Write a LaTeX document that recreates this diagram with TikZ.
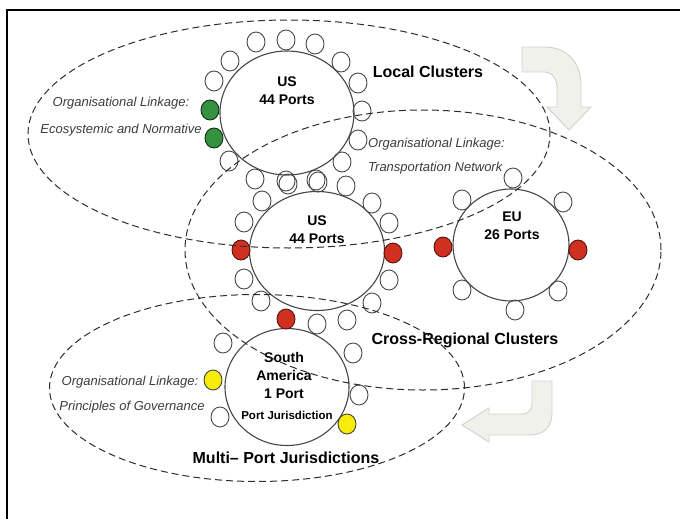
\documentclass[tikz,border=0pt]{standalone}
\usepackage{fontspec}
\setmainfont{Liberation Sans}
\usetikzlibrary{shapes.geometric}
\definecolor{lineg}{RGB}{70,70,70}
\definecolor{dashc}{RGB}{45,45,45}
\definecolor{pgreen}{RGB}{52,145,62}
\definecolor{pred}{RGB}{208,48,32}
\definecolor{pyellow}{RGB}{250,236,10}
\definecolor{itc}{RGB}{60,60,60}
\definecolor{arrfill}{RGB}{241,241,236}
\definecolor{arrline}{RGB}{210,210,204}
\begin{document}
\begin{tikzpicture}[x=1pt,y=-1pt,
  port/.style={ellipse, draw=lineg, line width=0.9pt, minimum width=18pt, minimum height=20pt, inner sep=0pt},
  gport/.style={port, fill=pgreen, draw=black!70!pgreen},
  rport/.style={port, fill=pred, draw=black!60!pred},
  yport/.style={port, fill=pyellow, draw=black!75},
  region/.style={ellipse, draw=lineg, line width=1.1pt, inner sep=0pt},
  cluster/.style={ellipse, draw=dashc, line width=1pt, dash pattern=on 7pt off 4pt, inner sep=0pt},
  big/.style={font=\fontsize{16}{18}\selectfont\bfseries, inner sep=0pt},
  reg/.style={font=\fontsize{14}{18}\selectfont\bfseries, align=center, inner sep=0pt},
  ital/.style={font=\fontsize{13}{15}\selectfont\itshape, text=itc, inner sep=0pt},
  blockarrow/.style={fill=arrfill, draw=arrline, line width=0.9pt}
]
\useasboundingbox (0,0) rectangle (680,519);
% frame (cropped)
\draw[line width=2.2pt] (7,519) -- (7,10) -- (680,10);

% block arrows
\draw[blockarrow] (522,47) -- (545,47) .. controls (566,47) and (581,62) .. (581,85)
  -- (581,107) -- (591,107) -- (569,130) -- (547,107) -- (557,107) -- (557,88)
  .. controls (557,79) and (552,72) .. (545,72) -- (522,72) -- cycle;
\draw[blockarrow] (532,381) -- (552,381) -- (552,413) .. controls (552,427) and (544,435) .. (530,435)
  -- (489,435) -- (489,442) -- (462,425) -- (489,408) -- (489,414) -- (522,414)
  .. controls (528,414) and (532,410) .. (532,404) -- cycle;

% big circles
\node[region, minimum width=134pt, minimum height=124pt] (ustop) at (287,113) {};
\node[region, minimum width=135pt, minimum height=119pt] (usbot) at (317,251) {};
\node[region, minimum width=116pt, minimum height=112pt] (eu) at (511,245) {};
\node[region, minimum width=124pt, minimum height=117pt] (sa) at (287,387) {};

% top US ring
\node[port] (t1) at (256,42) {};
\node[port] (t2) at (286,40) {};
\node[port] (t3) at (315,44) {};
\node[port] (t4) at (230,61) {};
\node[port] (t5) at (341,62) {};
\node[port] (t6) at (214,81) {};
\node[port] (t7) at (358,83) {};
\node[gport] (g1) at (210,110) {};
\node[port] (t8) at (362,111) {};
\node[gport] (g2) at (214,138) {};
\node[port] (t9) at (358,140) {};
\node[port] (t10) at (229,161) {};
\node[port] (t11) at (342,162) {};
\node[port] (t12) at (255,179) {};
\node[port] (t13) at (286,181) {};
\node[port] (t14) at (316,180) {};
% bottom US ring
\node[port] (b1) at (288,184) {};
\node[port] (b2) at (318,182) {};
\node[port] (b3) at (346,186) {};
\node[port] (b4) at (262,201) {};
\node[port] (b5) at (372,203) {};
\node[port] (b6) at (244,222) {};
\node[port] (b7) at (389,223) {};
\node[rport] (r1) at (241,250) {};
\node[rport] (r2) at (393,253) {};
\node[port] (b8) at (244,279) {};
\node[port] (b9) at (389,280) {};
\node[port] (b10) at (261,301) {};
\node[port] (b11) at (372,303) {};
\node[rport] (r3) at (286,319) {};
\node[port] (b12) at (317,324) {};
\node[port] (b13) at (347,320) {};
% South America ring
\node[port] (s1) at (223,343) {};
\node[yport] (y1) at (213,380) {};
\node[port] (s2) at (220,417) {};
\node[port] (s3) at (353,353) {};
\node[port] (s4) at (359,395) {};
\node[yport] (y2) at (347,424) {};
% EU ring
\node[port] (e1) at (513,178) {};
\node[port] (e2) at (462,200) {};
\node[port] (e3) at (563,202) {};
\node[rport] (er1) at (443,247) {};
\node[rport] (er2) at (578,250) {};
\node[port] (e4) at (462,290) {};
\node[port] (e5) at (558,291) {};
\node[port] (e6) at (515,310) {};

% texts
\node[big] (lc) at (428,72) {Local Clusters};
\node[big] (crc) at (465,340) {Cross-Regional Clusters};
\node[big] (mpj) at (286,458) {Multi– Port Jurisdictions};
\node[reg] (ustxt) at (287,91) {US\\44 Ports};
\node[reg] (usbtxt) at (317,230) {US\\44 Ports};
\node[reg] (eutxt) at (512,226) {EU\\26 Ports};
\node[reg] (satxt) at (284,375) {South\\America\\1 Port};
\node[font=\fontsize{11.5}{13}\selectfont\bfseries, inner sep=0pt] (pj) at (287,415) {Port Jurisdiction};
\node[ital] (ol1) at (121,103) {Organisational Linkage:};
\node[ital] (en) at (121,130) {Ecosystemic and Normative};
\node[ital, anchor=west] (ol2) at (368,144) {Organisational Linkage:};
\node[ital, anchor=west] (tn) at (368,168) {Transportation Network};
\node[ital] (ol3) at (130,382) {Organisational Linkage:};
\node[ital] (pg) at (132,407) {Principles of Governance};

% dashed cluster ellipses
\node[cluster, minimum width=522pt, minimum height=228pt] (local) at (289,134) {};
\node[cluster, minimum width=476pt, minimum height=280pt] (cross) at (423,250) {};
\node[cluster, minimum width=415pt, minimum height=187pt] (multi) at (257,388) {};
\end{tikzpicture}
\end{document}
